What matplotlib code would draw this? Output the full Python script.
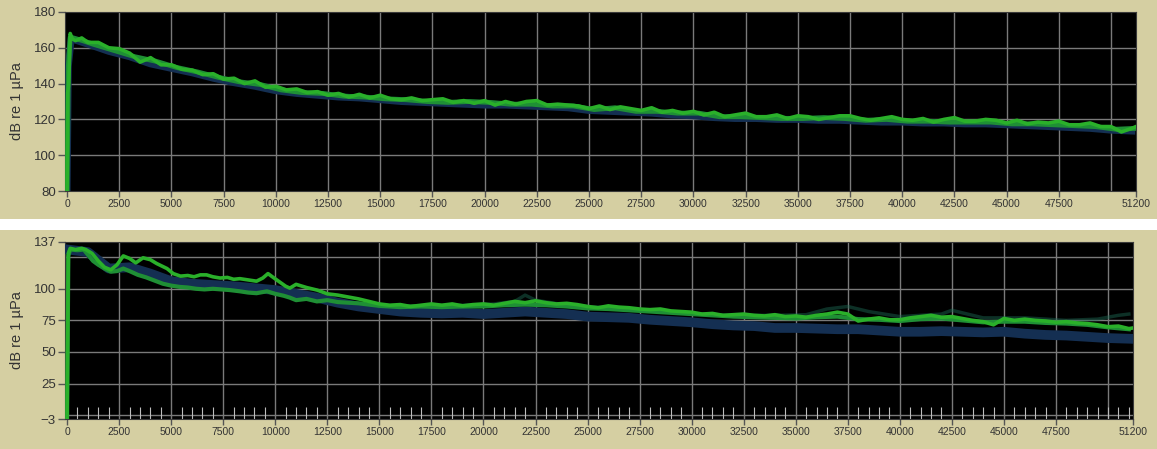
import matplotlib
matplotlib.use('Agg')
import matplotlib.pyplot as plt
from matplotlib.patches import Rectangle

plt.rcParams['font.family'] = ['Liberation Sans', 'DejaVu Sans']

# ---------------- panel superior (espectro 1) ----------------
f_top_a = [0, 30, 80, 150, 250, 400, 700, 1000, 1500, 2000, 2500, 3000, 3500, 4000, 4500,
           5000, 5500, 6000, 6500, 7000, 7500, 8000, 8500, 9000, 9500, 10000, 10500, 11000,
           11500, 12000, 12500, 13000, 13500, 14000, 14500, 15000, 15500, 16000, 16500,
           17000, 17500, 18000, 18500, 19000, 19500, 20000, 20500, 21000, 21500, 22000,
           22500, 23000, 23500, 24000, 24500, 25000, 25500, 26000, 26500, 27000, 27500,
           28000, 28500, 29000, 29500, 30000, 30500, 31000, 31500, 32000, 32500, 33000,
           33500, 34000, 34500, 35000, 35500, 36000, 36500, 37000, 37500, 38000, 38500,
           39000, 39500, 40000, 40500, 41000, 41500, 42000, 42500, 43000, 43500, 44000,
           44500, 45000, 45500, 46000, 46500, 47000, 47500, 48000, 48500, 49000, 49500,
           50000, 50500, 51000, 51200]
top_green_a = [80, 135, 140, 168, 165, 164, 165.5, 163, 163, 160, 159.5, 157, 152, 154.5,
               150.5, 150.5, 148, 147.5, 145, 145.5, 142.5, 143, 140, 141.5, 138, 138.5, 136.5,
               137, 135, 135.5, 133.5, 134.5, 132.5, 134, 132, 133.5, 131.5, 131, 132, 130.5,
               131, 131.5, 129.5, 130.5, 129, 130.5, 128, 130, 128.5, 130, 130.5, 128, 128.5,
               128, 127.5, 126, 127.5, 125.5, 127, 126, 125, 126.5, 124, 125, 123.5, 124.5,
               122.5, 124, 121.5, 122.5, 123.5, 121.5, 121.5, 122.5, 120.5, 122, 121.5, 120,
               121, 122, 122, 120.5, 119.5, 120.5, 121.5, 120, 119.5, 120.5, 118.5, 120,
               121, 119, 119, 120, 119.5, 118, 119.5, 117.5, 118.5, 118, 119, 117, 117, 118,
               116, 116, 113, 115, 116]

f_top_b = [0, 60, 150, 750, 1250, 2250, 3250, 4250, 5250, 6250, 7250, 8250, 9250, 10250,
           11250, 12250, 13250, 14250, 15250, 16250, 17250, 18250, 19250, 20250, 21250,
           22250, 23250, 24250, 25250, 26250, 27250, 28250, 29250, 30250, 31250, 32250,
           33250, 34250, 35250, 36250, 37250, 38250, 39250, 40250, 41250, 42250, 43250,
           44250, 45250, 46250, 47250, 48250, 49250, 50250, 51200]
top_green_b = [80, 150, 166, 164, 162, 158.5, 155, 152.5, 149, 146.5, 143.5, 141, 139.5,
               136.5, 135, 134.5, 133, 132.5, 131.5, 131, 130, 129.5, 130, 129.5, 128.5,
               128.5, 127.5, 127.5, 125.5, 126.5, 124.5, 124.5, 123.5, 123.5, 121.5, 121.5,
               121, 120.5, 120.5, 121, 120.5, 119.5, 120, 119, 119, 118.5, 118.5, 118.5,
               117.5, 117.5, 117, 116.5, 116, 114.5, 115]

f_top_blue = [0, 60, 200, 1000, 2000, 3000, 4000, 5000, 6000, 7000, 8000, 9000, 10000, 11000,
              12000, 13000, 14000, 15000, 16000, 17000, 18000, 19000, 20000, 21000, 22000,
              23000, 24000, 25000, 26000, 27000, 28000, 29000, 30000, 31000, 32000, 33000,
              34000, 35000, 36000, 37000, 38000, 39000, 40000, 41000, 42000, 43000, 44000,
              45000, 46000, 47000, 48000, 49000, 50000, 51000]
top_blue = [80, 150, 165, 162, 158, 155, 151, 148.5, 146, 143, 140.5, 138.5, 136, 134.5,
            133.5, 132.5, 132, 131, 130, 129.5, 129, 128.5, 128, 128, 127.5, 127, 126.5, 125,
            124.5, 124, 123.5, 122.5, 122, 121, 120.5, 120.5, 120, 120, 119.5, 119.5, 119,
            118.5, 118.5, 118, 118, 117.5, 117.5, 117, 116.5, 116, 115.5, 115, 114, 113.5]

# ---------------- panel inferior (espectro 2) ----------------
f_bot_a = [0, 30, 60, 150, 400, 700, 900, 1200, 1500, 1800, 2100, 2400, 2700, 3000, 3300,
           3650, 4000, 4300, 4800, 5100, 5450, 5800, 6100, 6400, 6700, 7000, 7350, 7700,
           8000, 8300, 8700, 9100, 9400, 9650, 9900, 10200, 10500, 10700, 11000, 11500,
           12000, 12500, 13000, 13500, 14000, 14500, 15000, 15500, 16000, 16500, 17000,
           17500, 18000, 18500, 19000, 19500, 20000, 20500, 21000, 21500, 22000, 22500,
           23000, 23500, 24000, 24500, 25000, 25500, 26000, 26500, 27000, 27500, 28000,
           28500, 29000, 29500, 30000, 30500, 31000, 31500, 32000, 32500, 33000, 33500,
           34000, 34500, 35000, 35500, 36000, 36500, 37000, 37500, 38000, 38500, 39000,
           39500, 40000, 40500, 41000, 41500, 42000, 42500, 43000, 43500, 44000, 44500,
           45000, 45500, 46000, 46500, 47000, 47500, 48000, 48500, 49000, 49500, 50000,
           50500, 51000, 51200]
bot_green_a = [-3, 60, 128, 132, 131, 132, 131, 128, 122, 117, 115, 119, 126, 124, 120.5,
               124.5, 123, 120, 116, 112, 110, 110.5, 109.5, 111, 111, 109.5, 108.5, 109,
               107.5, 108, 107, 106, 108.5, 112, 109, 105.5, 102, 100.5, 103.5, 101, 99, 96,
               95, 93.5, 92, 90, 88, 87, 87.5, 86, 87, 88, 87, 88, 86.5, 87.5, 88, 87, 88.5,
               90, 89, 90.5, 89, 88, 88.5, 87.5, 86, 85, 86.5, 85.5, 85, 84, 83.5, 84, 82.5,
               82, 81.5, 80, 80.5, 79, 79.5, 80, 79, 78.5, 79.5, 78, 78.5, 77.5, 79, 80, 81.5,
               80, 74.5, 76, 77, 75.5, 75.5, 77, 78, 79, 77.5, 78, 76.5, 75, 74, 71.5, 76.5,
               75, 76, 75, 74.5, 73.5, 74, 73, 72.5, 71.5, 70, 70.5, 68.5, 69]

f_bot_b = [0, 30, 60, 150, 500, 800, 1000, 1250, 1500, 1800, 2100, 2400, 2700, 3000, 3400,
           3800, 4200, 4600, 5000, 5400, 5800, 6200, 6600, 7000, 7400, 7800, 8300, 8700,
           9100, 9600, 10000, 10400, 10700, 11000, 11500, 12000, 12500, 13000, 14000, 15000,
           16000, 17000, 18000, 19000, 20000, 21000, 22000, 23000, 24000, 25000, 26000,
           27000, 28000, 29000, 30000, 31000, 32000, 33000, 34000, 35000, 36000, 37000,
           38000, 39000, 40000, 41000, 42000, 43000, 44000, 45000, 46000, 47000, 48000,
           49000, 50000, 51000]
bot_green_b = [-3, 60, 126, 131, 130.5, 131, 127, 122, 119, 116, 113.5, 114, 116, 114, 111,
               109, 106.5, 104, 102.5, 101.5, 101, 100, 99.5, 100, 99.5, 99, 98, 97, 96.5, 98,
               96, 94.5, 93, 91, 92, 90, 91, 89.5, 88.5, 86.5, 85.5, 86, 85.5, 86, 86, 87,
               87.5, 87, 86, 84.5, 84, 83, 82, 81, 80, 79, 78, 77.5, 77, 76.5, 77.5, 78, 76,
               75.5, 74.5, 76, 76.5, 75, 73.5, 74, 74, 73, 72.5, 71.5, 69.5, 68]

f_bot_blue = [60, 1000, 2000, 3000, 4000, 5000, 6000, 7000, 8000, 9000, 10000, 11000, 12000,
              13000, 14000, 15000, 16000, 17000, 18000, 19000, 20000, 21000, 22000, 23000,
              24000, 25000, 26000, 27000, 28000, 29000, 30000, 31000, 32000, 33000, 34000,
              35000, 36000, 37000, 38000, 39000, 40000, 41000, 42000, 43000, 44000, 45000,
              46000, 47000, 48000, 49000, 50000, 51000]
bot_blue = [131, 129, 116, 117, 112, 106, 104, 103, 102, 100.5, 99, 96, 93, 89, 86, 84, 82,
            81, 80.5, 81, 80, 81, 82, 81, 80, 78, 77.5, 77, 75.5, 74.5, 73.5, 72, 71, 70.5,
            69, 69, 68.5, 68, 68, 67, 66, 66, 66.5, 66, 65.5, 66, 64.5, 63.5, 63, 62, 61,
            60.5]

f_bot_teal = [15000, 17000, 19000, 20500, 21500, 22000, 22500, 24000, 26000, 28000, 30000,
              32000, 34000, 35500, 36500, 37500, 38500, 40000, 42000, 42500, 44000, 46000,
              48000, 49500, 50500, 51000]
bot_teal = [86, 86.5, 87, 88, 90, 95, 91, 87, 85, 83, 80, 79, 79, 79.5, 84, 86, 82, 78, 80,
            83, 77, 77, 75, 76, 79, 80]

# ejes: ticks y grilla
x_ticks = [0, 2500, 5000, 7500, 10000, 12500, 15000, 17500, 20000, 22500, 25000, 27500,
           30000, 32500, 35000, 37500, 40000, 42500, 45000, 47500, 51200]
x_grid = [2500, 5000, 7500, 10000, 12500, 15000, 17500, 20000, 22500, 25000, 27500, 30000,
          32500, 35000, 37500, 40000, 42500, 45000, 47500, 50000]
top_yticks = [80, 100, 120, 140, 160, 180]
bot_yticks = [-3, 25, 50, 75, 100, 137]
bot_ygrid = [0, 25, 50, 75, 100, 125]

tan = '#d5cfa2'
verde = '#2ab02a'
verde2 = '#1f8f35'
azul = '#142f52'
grilla = '#7a7a7a'

fig = plt.figure(figsize=(11.57, 4.49), dpi=100, facecolor='white')
# fondos color arena de cada panel (con franja blanca en medio)
fig.patches.append(Rectangle((0, 1 - 219 / 449), 1, 219 / 449, transform=fig.transFigure,
                             facecolor=tan, edgecolor='none', zorder=-10))
fig.patches.append(Rectangle((0, 0), 1, 1 - 230 / 449, transform=fig.transFigure,
                             facecolor=tan, edgecolor='none', zorder=-10))

ax1 = fig.add_axes([65 / 1157, 1 - 191 / 449, 1071 / 1157, 179 / 449])
ax2 = fig.add_axes([65 / 1157, 1 - 419 / 449, 1068 / 1157, 177 / 449])

for ax in (ax1, ax2):
    ax.set_facecolor('black')
    ax.set_xlim(-100, 51200)
    for xg in x_grid:
        ax.axvline(xg, color=grilla, linewidth=1, zorder=1)
    ax.set_xticks(x_ticks)
    ax.set_xticklabels([str(t) for t in x_ticks])
    ax.tick_params(axis='x', which='major', direction='out', length=4, width=1,
                   color='#555555', labelcolor='#333333', labelsize=7.5, pad=1.5)
    ax.tick_params(axis='y', which='major', direction='out', length=5, width=1,
                   color='#555555', labelcolor='#333333', labelsize=9.5, pad=1.5)
    for s in ax.spines.values():
        s.set_color('#3a3a3a')
        s.set_linewidth(0.8)
    ax.set_ylabel('dB re 1 µPa', fontsize=10.5, color='#333333')
    ax.yaxis.set_label_coords(-0.038, 0.5)

# panel superior
ax1.set_ylim(80, 180)
ax1.set_yticks(top_yticks)
for yg in top_yticks[1:-1]:
    ax1.axhline(yg, color=grilla, linewidth=1, zorder=1)
ax1.plot(f_top_blue, top_blue, color=azul, linewidth=5, zorder=3)
ax1.plot(f_top_b, top_green_b, color=verde2, linewidth=3.5, zorder=4)
ax1.plot(f_top_a, top_green_a, color=verde, linewidth=2.6, zorder=5)

# panel inferior
ax2.set_ylim(-3, 137)
ax2.set_yticks(bot_yticks)
for yg in bot_ygrid:
    ax2.axhline(yg, color=grilla, linewidth=1, zorder=1)
ax2.set_xticks(range(0, 51200, 500), minor=True)
ax2.tick_params(axis='x', which='minor', direction='in', length=9, width=0.8,
                color='#bdbdbd')
ax2.plot(f_bot_blue, bot_blue, color=azul, linewidth=7, zorder=3)
ax2.plot(f_bot_teal, bot_teal, color='#1d6b55', linewidth=2.5, alpha=0.45, zorder=3)
ax2.plot(f_bot_b, bot_green_b, color=verde2, linewidth=3, zorder=4)
ax2.plot(f_bot_a, bot_green_a, color=verde, linewidth=2.6, zorder=5)

plt.savefig('out.png', dpi=100, facecolor=fig.get_facecolor())
